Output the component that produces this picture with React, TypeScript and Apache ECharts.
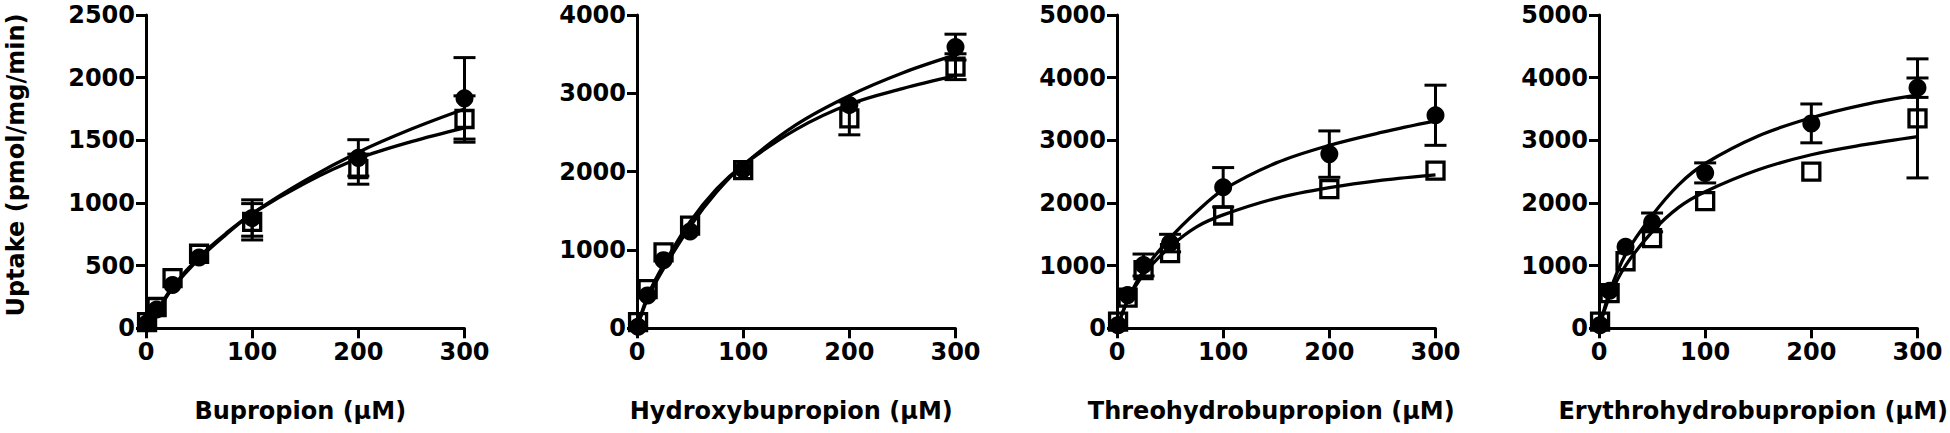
import React, { useEffect, useRef } from "react";
import * as echarts from "echarts";

// concentrations (µM)
const conc = [1, 10, 25, 50, 100, 200, 300];
const fitConc = [0, 10, 25, 50, 75, 100, 150, 200, 250, 300];

const panelTitles = [
  "Bupropion (µM)",
  "Hydroxybupropion (µM)",
  "Threohydrobupropion (µM)",
  "Erythrohydrobupropion (µM)",
];
const yMaxes = [2500, 4000, 5000, 5000];
const yIntervals = [500, 1000, 1000, 1000];
const yTitle = "Uptake (pmol/mg/min)";

// filled circles
const circleMeans = [
  [40, 150, 345, 565, 880, 1360, 1835],
  [20, 420, 870, 1235, 2030, 2850, 3590],
  [50, 530, 1010, 1360, 2250, 2780, 3400],
  [50, 600, 1300, 1690, 2480, 3270, 3840],
];
const circleSEM = [
  [0, 0, 0, 0, 145, 145, 325],
  [0, 0, 0, 0, 0, 0, 165],
  [0, 0, 175, 140, 315, 370, 480],
  [0, 0, 0, 150, 160, 310, 155],
];
// open squares
const squareMeans = [
  [50, 170, 400, 595, 850, 1270, 1670],
  [80, 500, 970, 1310, 2020, 2680, 3340],
  [105, 490, 930, 1200, 1800, 2220, 2515],
  [105, 560, 1070, 1440, 2030, 2500, 3350],
];
const squareSEM = [
  [0, 0, 0, 0, 145, 120, 185],
  [0, 0, 0, 0, 0, 210, 165],
  [0, 0, 0, 0, 0, 0, 0],
  [0, 0, 0, 0, 0, 0, 950],
];
// fitted curves
const circleFit = [
  [0, 125, 320, 555, 745, 915, 1180, 1405, 1590, 1750],
  [0, 380, 760, 1300, 1740, 2085, 2600, 2970, 3260, 3490],
  [0, 450, 920, 1440, 1860, 2210, 2640, 2920, 3130, 3310],
  [0, 580, 1180, 1800, 2290, 2630, 3070, 3360, 3570, 3725],
];
const squareFit = [
  [0, 135, 330, 570, 755, 915, 1160, 1355, 1490, 1600],
  [0, 410, 810, 1360, 1780, 2085, 2540, 2860, 3060, 3225],
  [0, 440, 860, 1300, 1620, 1810, 2075, 2245, 2365, 2450],
  [0, 510, 1000, 1540, 1930, 2180, 2530, 2770, 2930, 3060],
];

const gridLefts = [146, 637, 1117, 1599];
const gridWidth = 318.5;
const gridTop = 15;
const gridHeight = 313.3;
const FONT = "DejaVu Sans";

export default function App() {
  const ref = useRef<HTMLDivElement>(null);
  useEffect(() => {
    if (!ref.current) return;
    const chart = echarts.init(ref.current, undefined, { renderer: "svg" });
    const grids: any[] = [];
    const xAxes: any[] = [];
    const yAxes: any[] = [];
    const series: any[] = [];
    const graphics: any[] = [];
    const labelStyle = { fontFamily: FONT, fontWeight: "bold", fontSize: 24, color: "#000" };
    const lineStyle = { color: "#000", width: 3 };
    const plain = (v: number) => String(v);

    const errRender = (params: any, api: any) => {
      const x = api.value(0), y = api.value(1), e = api.value(2);
      const t = api.coord([x, y + e]);
      const b = api.coord([x, y - e]);
      const hw = 11;
      const st = { stroke: "#000", lineWidth: 3, fill: null };
      return {
        type: "group",
        children: [
          { type: "line", shape: { x1: t[0], y1: t[1], x2: b[0], y2: b[1] }, style: st },
          { type: "line", shape: { x1: t[0] - hw, y1: t[1], x2: t[0] + hw, y2: t[1] }, style: st },
          { type: "line", shape: { x1: b[0] - hw, y1: b[1], x2: b[0] + hw, y2: b[1] }, style: st },
        ],
      };
    };

    const textStyle = (text: string) => ({
      text, fill: "#000", fontSize: 24, fontWeight: "bold", fontFamily: FONT,
      textAlign: "center", textVerticalAlign: "middle", align: "center", verticalAlign: "middle",
    });

    for (let i = 0; i < 4; i++) {
      grids.push({ left: gridLefts[i], top: gridTop, width: gridWidth, height: gridHeight, containLabel: false });
      xAxes.push({
        type: "value", gridIndex: i, min: 0, max: 300, interval: 100,
        axisLine: { show: true, onZero: false, lineStyle },
        axisTick: { show: true, length: 10, lineStyle },
        axisLabel: { ...labelStyle, margin: 12, formatter: plain },
        splitLine: { show: false },
      });
      yAxes.push({
        type: "value", gridIndex: i, min: 0, max: yMaxes[i], interval: yIntervals[i],
        axisLine: { show: true, onZero: false, lineStyle },
        axisTick: { show: true, length: 10, lineStyle },
        axisLabel: { ...labelStyle, margin: 11, formatter: plain },
        splitLine: { show: false },
      });
      series.push({
        type: "line", xAxisIndex: i, yAxisIndex: i, smooth: 0.35, showSymbol: false, symbol: "none",
        lineStyle: { color: "#000", width: 3.3 }, z: 2,
        data: fitConc.map((x, k) => [x, circleFit[i][k]]),
      });
      series.push({
        type: "line", xAxisIndex: i, yAxisIndex: i, smooth: 0.35, showSymbol: false, symbol: "none",
        lineStyle: { color: "#000", width: 3.3 }, z: 2,
        data: fitConc.map((x, k) => [x, squareFit[i][k]]),
      });
      series.push({
        type: "custom", xAxisIndex: i, yAxisIndex: i, renderItem: errRender, z: 3,
        data: conc.map((x, k) => [x, circleMeans[i][k], circleSEM[i][k]]).filter((d) => d[2] > 0),
      });
      series.push({
        type: "custom", xAxisIndex: i, yAxisIndex: i, renderItem: errRender, z: 3,
        data: conc.map((x, k) => [x, squareMeans[i][k], squareSEM[i][k]]).filter((d) => d[2] > 0),
      });
      series.push({
        type: "scatter", xAxisIndex: i, yAxisIndex: i, symbol: "circle", symbolSize: 18, z: 4,
        itemStyle: { color: "#000", opacity: 1 },
        data: conc.map((x, k) => [x, circleMeans[i][k]]),
      });
      series.push({
        type: "scatter", xAxisIndex: i, yAxisIndex: i, symbol: "rect", symbolSize: 17, z: 5,
        itemStyle: { color: "rgba(0,0,0,0)", borderColor: "#000", borderWidth: 3.3, opacity: 1 },
        data: conc.map((x, k) => [x, squareMeans[i][k]]),
      });
      graphics.push({
        type: "text", x: gridLefts[i] + gridWidth / 2 - 5, y: 411,
        style: textStyle(panelTitles[i]),
      });
    }
    graphics.push({
      type: "text", x: 16, y: 165, rotation: Math.PI / 2,
      style: textStyle(yTitle),
    });

    chart.setOption({
      animation: false,
      backgroundColor: "#fff",
      grid: grids,
      xAxis: xAxes,
      yAxis: yAxes,
      series,
      graphic: graphics,
    });
    return () => chart.dispose();
  }, []);
  return <div ref={ref} style={{ position: "fixed", left: 0, top: 0, width: 1950, height: 433 }} />;
}
